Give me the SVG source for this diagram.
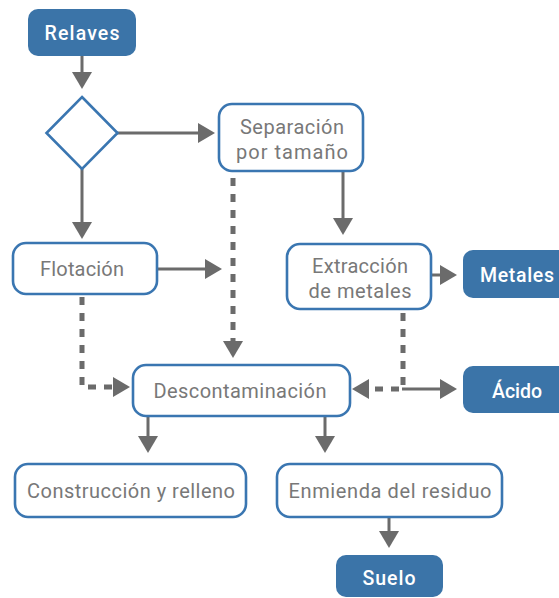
<svg xmlns="http://www.w3.org/2000/svg" width="559" height="598" viewBox="0 0 559 598">
  <style>
    .box { fill: #ffffff; stroke: #3a76b1; stroke-width: 2.6; }
    .solidbox { fill: #3b74a8; stroke: none; }
    .lbl { font-family: Roboto, "Liberation Sans", sans-serif; font-size: 20px; fill: #787878; text-anchor: middle; }
    .wlbl { font-family: Roboto, "Liberation Sans", sans-serif; font-size: 19.5px; font-weight: 500; fill: #ffffff; text-anchor: middle; }
    .line { fill: none; stroke: #6b6b6b; stroke-width: 3; }
    .dots { fill: none; stroke: #6b6b6b; stroke-width: 5; stroke-dasharray: 8 8; }
  </style>
  <defs>
    <marker id="head" viewBox="0 0 17 20" refX="0" refY="10" markerWidth="17" markerHeight="20" markerUnits="userSpaceOnUse" orient="auto">
      <path d="M0,0 L17,10 L0,20 Z" fill="#6b6b6b"/>
    </marker>
  </defs>

  <g id="connectors">
    <path class="line" d="M82,56 V72" marker-end="url(#head)"/>
    <path class="line" d="M117,133 H198" marker-end="url(#head)"/>
    <path class="line" d="M82,169 V222" marker-end="url(#head)"/>
    <path class="line" d="M343,171 V218" marker-end="url(#head)"/>
    <path class="dots" d="M233,178 V341" marker-end="url(#head)"/>
    <path class="line" d="M157,269 H205" marker-end="url(#head)"/>
    <path class="dots" d="M82,297 V387 H113" marker-end="url(#head)"/>
    <path class="line" d="M431,275 H440" marker-end="url(#head)"/>
    <path class="dots" d="M403,313 V389 H369" marker-end="url(#head)"/>
    <path class="line" d="M402,389 H440" marker-end="url(#head)"/>
    <path class="line" d="M148,416 V436" marker-end="url(#head)"/>
    <path class="line" d="M325,416 V436" marker-end="url(#head)"/>
    <path class="line" d="M389,517 V531" marker-end="url(#head)"/>
  </g>

  <g id="relaves">
    <rect class="solidbox" x="28" y="9" width="108" height="47" rx="10"/>
    <text class="wlbl" x="82" y="39.5" textLength="75">Relaves</text>
  </g>

  <g id="decision">
    <polygon class="box" points="82,97 117.5,133 82,169 46.5,133"/>
  </g>

  <g id="separacion">
    <rect class="box" x="219" y="104" width="144" height="67" rx="13"/>
    <text class="lbl" x="292" y="134" textLength="104">Separación</text>
    <text class="lbl" x="292" y="159" textLength="112">por  tamaño</text>
  </g>

  <g id="flotacion">
    <rect class="box" x="13" y="243" width="144" height="51" rx="13"/>
    <text class="lbl" x="82" y="276" textLength="84">Flotación</text>
  </g>

  <g id="extraccion">
    <rect class="box" x="287" y="244" width="144" height="65" rx="13"/>
    <text class="lbl" x="360" y="273" textLength="96">Extracción</text>
    <text class="lbl" x="360" y="298" textLength="103">de metales</text>
  </g>

  <g id="metales">
    <rect class="solidbox" x="463" y="250" width="112" height="48" rx="10"/>
    <text class="wlbl" x="517" y="281.5" textLength="74">Metales</text>
  </g>

  <g id="descontaminacion">
    <rect class="box" x="133" y="365" width="217" height="51" rx="13"/>
    <text class="lbl" x="240" y="398" textLength="173">Descontaminación</text>
  </g>

  <g id="acido">
    <rect class="solidbox" x="463" y="366" width="112" height="47" rx="10"/>
    <text class="wlbl" x="517" y="397.5" textLength="50">Ácido</text>
  </g>

  <g id="construccion">
    <rect class="box" x="15" y="464" width="231" height="53" rx="13"/>
    <text class="lbl" x="131" y="498" textLength="208">Construcción y relleno</text>
  </g>

  <g id="enmienda">
    <rect class="box" x="277" y="464" width="225" height="53" rx="13"/>
    <text class="lbl" x="390" y="498" textLength="203">Enmienda del residuo</text>
  </g>

  <g id="suelo">
    <rect class="solidbox" x="336" y="555" width="107" height="42" rx="10"/>
    <text class="wlbl" x="389" y="584.5" textLength="53">Suelo</text>
  </g>
</svg>
